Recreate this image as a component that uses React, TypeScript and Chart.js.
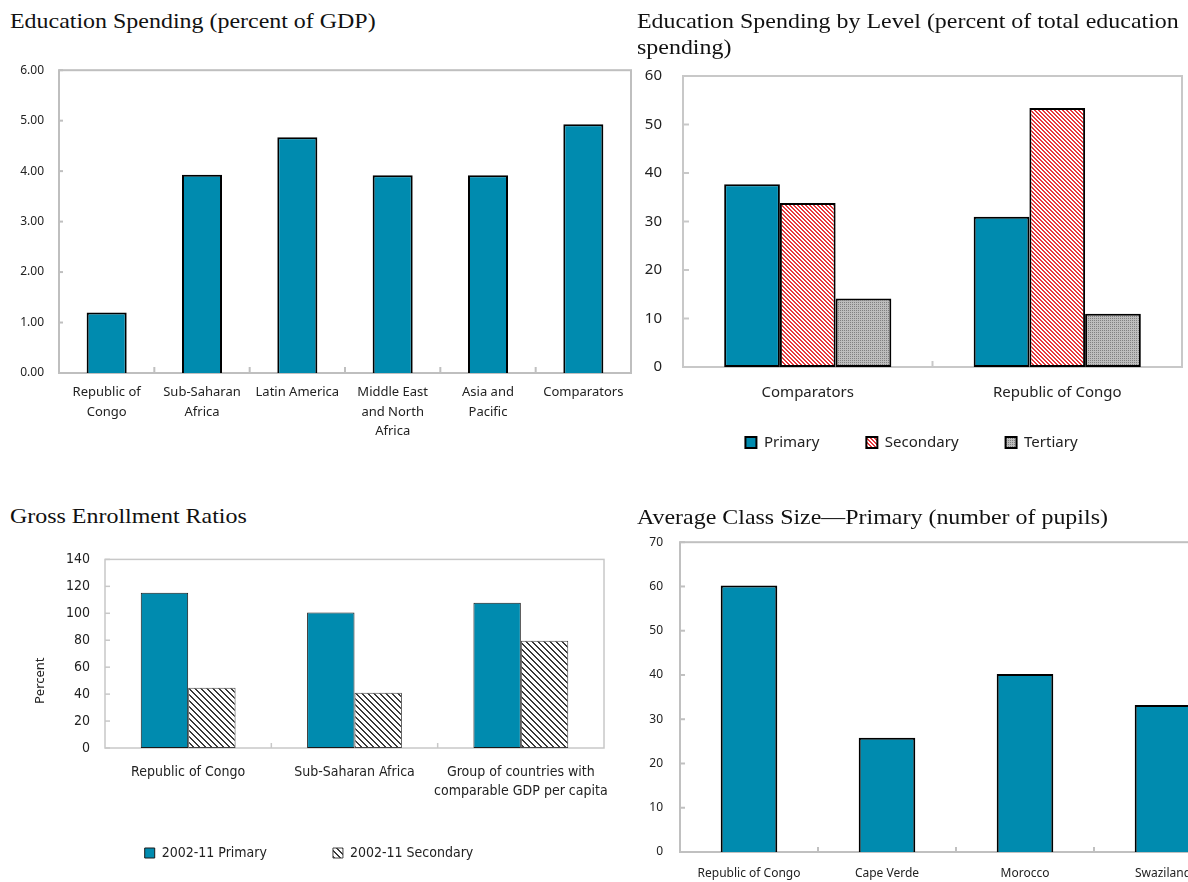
import React, { useEffect, useRef } from "react";
import { Chart, registerables } from "chart.js";

Chart.register(...registerables);

// ---------- DATA ----------
const spendCategories = [
  ["Republic of", "Congo"],
  ["Sub-Saharan", "Africa"],
  ["Latin America"],
  ["Middle East", "and North", "Africa"],
  ["Asia and", "Pacific"],
  ["Comparators"],
];
const spendValues = [1.2, 3.93, 4.67, 3.92, 3.92, 4.93];

const levelCategories = ["Comparators", "Republic of Congo"];
const levelPrimary = [37.7, 31.0];
const levelSecondary = [33.8, 53.4];
const levelTertiary = [14.1, 11.0];

const enrollCategories = [
  ["Republic of Congo"],
  ["Sub-Saharan Africa"],
  ["Group of countries with", "comparable GDP per capita"],
];
const enrollPrimary = [115.3, 100.5, 107.8];
const enrollSecondary = [44.8, 41.0, 79.6];

const classCategories = ["Republic of Congo", "Cape Verde", "Morocco", "Swaziland"];
const classValues = [60.2, 25.8, 40.2, 33.2];

// ---------- STYLE ----------
const TEAL = "#008BAF";
const SANS = "'Noto Sans', 'Open Sans', sans-serif";
const NARROW = "'Liberation Sans Narrow', 'DejaVu Sans Condensed', sans-serif";
const SERIF = "'Liberation Serif', 'Times New Roman', serif";
const TXT = "#222";

function makePattern(size: number, draw: (ctx: CanvasRenderingContext2D) => void) {
  const c = document.createElement("canvas");
  c.width = size;
  c.height = size;
  const ctx = c.getContext("2d")!;
  draw(ctx);
  return ctx.createPattern(c, "repeat")!;
}

const redHatch = () =>
  makePattern(4, (ctx) => {
    ctx.fillStyle = "#fff";
    ctx.fillRect(0, 0, 4, 4);
    ctx.fillStyle = "#E8383D";
    for (let i = 0; i < 4; i++) {
      ctx.fillRect(i, i, 1, 1);
      ctx.fillRect((i + 1) % 4, i, 1, 1);
    }
  });

const grayDots = () =>
  makePattern(2, (ctx) => {
    ctx.fillStyle = "#BDBDBD";
    ctx.fillRect(0, 0, 2, 2);
    ctx.fillStyle = "#808080";
    ctx.fillRect(0, 0, 1, 1);
  });

const blackHatch = () =>
  makePattern(6, (ctx) => {
    ctx.fillStyle = "#fff";
    ctx.fillRect(0, 0, 6, 6);
    ctx.fillStyle = "#3a3a3a";
    for (let y = 0; y < 6; y++)
      for (let x = 0; x < 6; x++) if ((x - y + 12) % 6 < 2) ctx.fillRect(x, y, 1, 1);
  });

const framePlugin = {
  id: "frame",
  beforeDatasetsDraw(chart: any, _args: any, opts: any) {
    const { ctx, chartArea: a } = chart;
    ctx.save();
    ctx.strokeStyle = opts.color || "#BFBFBF";
    ctx.lineWidth = opts.width || 2;
    ctx.strokeRect(a.left, a.top, a.right - a.left, a.bottom - a.top);
    const len = opts.tick || 6;
    if (opts.xTicks) {
      const xs = chart.scales.x;
      const n = xs.ticks.length;
      for (let i = 1; i < n; i++) {
        const px = (xs.getPixelForTick(i - 1) + xs.getPixelForTick(i)) / 2;
        ctx.beginPath();
        ctx.moveTo(px, a.bottom);
        ctx.lineTo(px, a.bottom - len);
        ctx.stroke();
      }
    }
    if (opts.yTicks) {
      const ys = chart.scales.y;
      const ylen = opts.yTick || len;
      ys.ticks.forEach((_t: any, i: number) => {
        const py = ys.getPixelForTick(i);
        ctx.beginPath();
        ctx.moveTo(a.left, py);
        ctx.lineTo(a.left + ylen, py);
        ctx.stroke();
      });
    }
    ctx.restore();
  },
};

const noGrid = { display: false, drawTicks: false };
const noBorder = { display: false };

// an empty legend title with negative padding lets the legend box start lower,
// so the wide horizontal item spacing does not overlap the category labels
const legendSpacer = (shift: number) => ({
  display: true,
  text: "",
  font: { size: 10 },
  padding: { top: -shift, bottom: 0 },
});

function config1(): any {
  return {
    type: "bar",
    data: {
      labels: spendCategories,
      datasets: [
        {
          label: "Education spending",
          data: spendValues,
          backgroundColor: TEAL,
          borderColor: "#000",
          borderWidth: 2,
          barPercentage: 0.42,
          categoryPercentage: 1,
        },
      ],
    },
    options: {
      responsive: false,
      animation: false,
      layout: { padding: { top: 0, right: 9, left: 0, bottom: 0 } },
      plugins: {
        legend: { display: false },
        tooltip: { enabled: false },
        frame: { color: "#BFBFBF", width: 2, xTicks: true, yTicks: true, yTick: 4 },
      },
      scales: {
        x: {
          grid: noGrid,
          border: noBorder,
          ticks: {
            autoSkip: false,
            maxRotation: 0,
            padding: 10,
            color: TXT,
            font: { family: SANS, size: 13, lineHeight: 1.48 },
          },
          afterFit(s: any) {
            s.height = 83;
          },
        },
        y: {
          min: 0,
          max: 6,
          grid: noGrid,
          border: noBorder,
          ticks: {
            stepSize: 1,
            padding: 15,
            color: TXT,
            font: { family: SANS, size: 12 },
            callback: (v: any) => Number(v).toFixed(2),
          },
          afterFit(s: any) {
            s.width = 59;
          },
        },
      },
    },
    plugins: [framePlugin],
  };
}

function config2(): any {
  const common = { borderColor: "#000", borderWidth: 2, borderSkipped: false, barPercentage: 1, categoryPercentage: 0.67 };
  return {
    type: "bar",
    data: {
      labels: levelCategories,
      datasets: [
        { label: "Primary", data: levelPrimary, backgroundColor: TEAL, ...common },
        { label: "Secondary", data: levelSecondary, backgroundColor: redHatch(), ...common },
        { label: "Tertiary", data: levelTertiary, backgroundColor: grayDots(), ...common },
      ],
    },
    options: {
      responsive: false,
      animation: false,
      layout: { padding: { top: 0, right: 6, left: 7, bottom: 0 } },
      plugins: {
        legend: {
          position: "bottom",
          title: legendSpacer(26),
          labels: { boxWidth: 11, boxHeight: 11, padding: 47, color: TXT, font: { family: SANS, size: 15 } },
        },
        tooltip: { enabled: false },
        frame: { color: "#C8C8C8", width: 2, xTicks: true, yTicks: true },
      },
      scales: {
        x: {
          grid: noGrid,
          border: noBorder,
          ticks: { autoSkip: false, maxRotation: 0, padding: 17, color: TXT, font: { family: SANS, size: 15 } },
          afterFit(s: any) {
            s.height = 35;
          },
        },
        y: {
          min: 0,
          max: 60,
          grid: noGrid,
          border: noBorder,
          ticks: { stepSize: 10, padding: 21, color: TXT, font: { family: SANS, size: 15 } },
          afterFit(s: any) {
            s.width = 42;
          },
        },
      },
    },
    plugins: [framePlugin],
  };
}

function config3(): any {
  return {
    type: "bar",
    data: {
      labels: enrollCategories,
      datasets: [
        {
          label: "2002-11 Primary",
          data: enrollPrimary,
          backgroundColor: TEAL,
          borderColor: "#1a1a1a",
          borderWidth: 1,
          borderSkipped: false,
          barPercentage: 1,
          categoryPercentage: 0.57,
        },
        {
          label: "2002-11 Secondary",
          data: enrollSecondary,
          backgroundColor: blackHatch(),
          borderColor: "#444",
          borderWidth: 1,
          borderSkipped: false,
          barPercentage: 1,
          categoryPercentage: 0.57,
        },
      ],
    },
    options: {
      responsive: false,
      animation: false,
      layout: { padding: { top: 0, right: 28, left: 14, bottom: 0 } },
      plugins: {
        legend: {
          position: "bottom",
          title: legendSpacer(34),
          labels: { boxWidth: 10, boxHeight: 10, padding: 66, color: TXT, font: { family: NARROW, size: 14 } },
        },
        tooltip: { enabled: false },
        frame: { color: "#C8C8C8", width: 1.5, xTicks: true, yTicks: true, tick: 5 },
      },
      scales: {
        x: {
          grid: noGrid,
          border: noBorder,
          ticks: {
            autoSkip: false,
            maxRotation: 0,
            padding: 15,
            color: TXT,
            font: { family: NARROW, size: 14, lineHeight: 1.36 },
          },
          afterFit(s: any) {
            s.height = 54;
          },
        },
        y: {
          min: 0,
          max: 140,
          grid: noGrid,
          border: noBorder,
          title: {
            display: true,
            text: "Percent                ",
            color: TXT,
            font: { family: SANS, size: 13 },
            padding: { top: 18, bottom: 0 },
          },
          ticks: { stepSize: 20, padding: 15, color: TXT, font: { family: NARROW, size: 14 } },
          afterFit(s: any) {
            s.width = 91;
          },
        },
      },
    },
    plugins: [framePlugin],
  };
}

function config4(): any {
  return {
    type: "bar",
    data: {
      labels: classCategories,
      datasets: [
        {
          label: "Average class size",
          data: classValues,
          backgroundColor: TEAL,
          borderColor: "#000",
          borderWidth: 2,
          barPercentage: 0.41,
          categoryPercentage: 1,
        },
      ],
    },
    options: {
      responsive: false,
      animation: false,
      layout: { padding: { top: 0, right: 18, left: 0, bottom: 0 } },
      plugins: {
        legend: { display: false },
        tooltip: { enabled: false },
        frame: { color: "#C0C0C0", width: 2, xTicks: true, yTicks: true, tick: 5 },
      },
      scales: {
        x: {
          grid: noGrid,
          border: noBorder,
          ticks: { autoSkip: false, maxRotation: 0, padding: 14, color: TXT, font: { family: SANS, size: 12 } },
          afterFit(s: any) {
            s.height = 30;
          },
        },
        y: {
          min: 0,
          max: 70,
          grid: noGrid,
          border: noBorder,
          ticks: { stepSize: 10, padding: 17, color: TXT, font: { family: SANS, size: 12 } },
          afterFit(s: any) {
            s.width = 50;
          },
        },
      },
    },
    plugins: [framePlugin],
  };
}

function ChartBox(props: { left: number; top: number; width: number; height: number; make: () => any }) {
  const ref = useRef<HTMLCanvasElement>(null);
  useEffect(() => {
    const chart = new Chart(ref.current!, props.make());
    return () => chart.destroy();
  }, []);
  return (
    <canvas
      ref={ref}
      width={props.width}
      height={props.height}
      style={{ position: "absolute", left: props.left, top: props.top, width: props.width, height: props.height }}
    />
  );
}

const titleStyle: React.CSSProperties = {
  position: "absolute",
  fontFamily: SERIF,
  fontSize: 21,
  lineHeight: "24px",
  color: "#111",
  whiteSpace: "nowrap",
  transform: "scaleX(1.14)",
  transformOrigin: "left top",
  zIndex: 2,
};

export default function App() {
  return (
    <div
      style={{
        position: "fixed",
        left: 0,
        top: 0,
        width: 1188,
        height: 882,
        overflow: "hidden",
        background: "#fff",
      }}
    >
      <ChartBox left={0} top={48} width={640} height={408} make={config1} />
      <ChartBox left={634} top={46} width={554} height={414} make={config2} />
      <ChartBox left={0} top={536} width={632} height={334} make={config3} />
      <ChartBox left={630} top={518} width={620} height={364} make={config4} />
      <div style={{ ...titleStyle, left: 10, top: 9 }}>Education Spending (percent of GDP)</div>
      <div style={{ ...titleStyle, left: 637, top: 8, lineHeight: "26px" }}>
        Education Spending by Level (percent of total education
        <br />
        spending)
      </div>
      <div style={{ ...titleStyle, left: 10, top: 504 }}>Gross Enrollment Ratios</div>
      <div style={{ ...titleStyle, left: 637, top: 505 }}>Average Class Size—Primary (number of pupils)</div>
    </div>
  );
}
